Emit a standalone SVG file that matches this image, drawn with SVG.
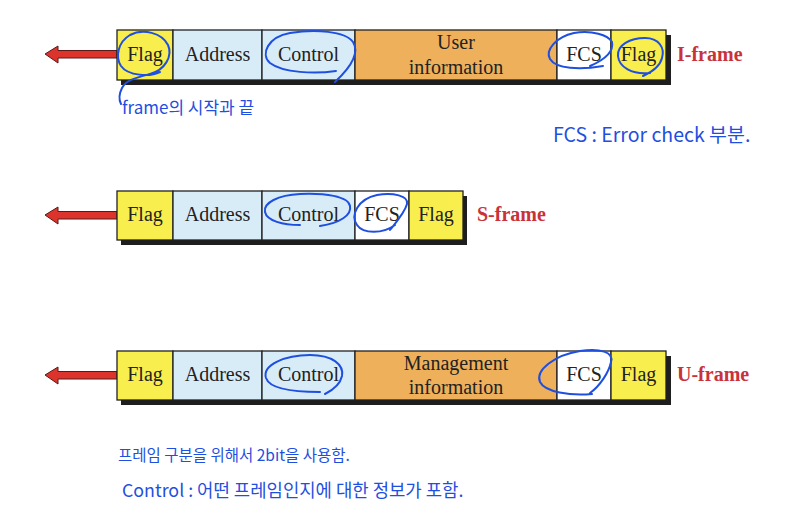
<svg xmlns="http://www.w3.org/2000/svg" width="797" height="531" viewBox="0 0 797 531">
<defs>
<style>
.fld{stroke:#222;stroke-width:1.3}
.flag{fill:#f8ee4e}
.addr{fill:#d8ecf8}
.info{fill:#eeb05a}
.fcs{fill:#ffffff}
.shadow{fill:#1e1e1e}
.t{font-family:"Liberation Serif","Times New Roman",serif;font-size:20px;fill:#222;text-anchor:middle}
.lbl{font-family:"Liberation Serif","Times New Roman",serif;font-size:20px;font-weight:bold;fill:#c9323a}
.arrow{fill:#dc332c;stroke:#5a1a18;stroke-width:1}
.pen{fill:none;stroke:#1f4fe0;stroke-width:2;stroke-linecap:round;stroke-linejoin:round}
.note{font-family:"Noto Sans CJK KR","Noto Sans",sans-serif;font-size:17px;fill:#1f4fe0}
</style>
</defs>
<rect width="797" height="531" fill="#ffffff"/>

<!-- I-frame -->
<g id="iframe">
<rect class="shadow" x="121" y="35" width="550" height="50"/>
<polygon class="arrow" points="45,54 58,46 58,50.5 117,50.5 117,58 58,58 58,63"/>
<g id="i-flag1"><rect class="fld flag" x="117" y="30" width="56" height="50"/><text class="t" x="145" y="61">Flag</text></g>
<g id="i-address"><rect class="fld addr" x="173" y="30" width="89" height="50"/><text class="t" x="217.5" y="61">Address</text></g>
<g id="i-control"><rect class="fld addr" x="262" y="30" width="93" height="50"/><text class="t" x="308.5" y="61">Control</text></g>
<g id="i-info"><rect class="fld info" x="355" y="30" width="202" height="50"/><text class="t" x="456" y="49">User</text><text class="t" x="456" y="74">information</text></g>
<g id="i-fcs"><rect class="fld fcs" x="557" y="30" width="54" height="50"/><text class="t" x="584" y="61">FCS</text></g>
<g id="i-flag2"><rect class="fld flag" x="611" y="30" width="55" height="50"/><text class="t" x="638.5" y="61">Flag</text></g>
<text class="lbl" x="677" y="61">I-frame</text>
</g>

<!-- S-frame -->
<g id="sframe">
<rect class="shadow" x="121" y="196" width="346" height="49"/>
<polygon class="arrow" points="45,215 58,207 58,211.5 117,211.5 117,219 58,219 58,224"/>
<g id="s-flag1"><rect class="fld flag" x="117" y="191" width="56" height="49"/><text class="t" x="145" y="221">Flag</text></g>
<g id="s-address"><rect class="fld addr" x="173" y="191" width="89" height="49"/><text class="t" x="217.5" y="221">Address</text></g>
<g id="s-control"><rect class="fld addr" x="262" y="191" width="93" height="49"/><text class="t" x="308.5" y="221">Control</text></g>
<g id="s-fcs"><rect class="fld fcs" x="355" y="191" width="54" height="49"/><text class="t" x="382" y="221">FCS</text></g>
<g id="s-flag2"><rect class="fld flag" x="409" y="191" width="54" height="49"/><text class="t" x="436" y="221">Flag</text></g>
<text class="lbl" x="477" y="221">S-frame</text>
</g>

<!-- U-frame -->
<g id="uframe">
<rect class="shadow" x="121" y="356" width="550" height="49"/>
<polygon class="arrow" points="45,375 58,367 58,371.5 117,371.5 117,379 58,379 58,384"/>
<g id="u-flag1"><rect class="fld flag" x="117" y="351" width="56" height="49"/><text class="t" x="145" y="381">Flag</text></g>
<g id="u-address"><rect class="fld addr" x="173" y="351" width="89" height="49"/><text class="t" x="217.5" y="381">Address</text></g>
<g id="u-control"><rect class="fld addr" x="262" y="351" width="93" height="49"/><text class="t" x="308.5" y="381">Control</text></g>
<g id="u-info"><rect class="fld info" x="355" y="351" width="202" height="49"/><text class="t" x="456" y="370">Management</text><text class="t" x="456" y="394">information</text></g>
<g id="u-fcs"><rect class="fld fcs" x="557" y="351" width="54" height="49"/><text class="t" x="584" y="381">FCS</text></g>
<g id="u-flag2"><rect class="fld flag" x="611" y="351" width="55" height="49"/><text class="t" x="638.5" y="381">Flag</text></g>
<text class="lbl" x="677" y="381">U-frame</text>
</g>

<!-- handwritten annotations -->
<g id="annotations">
<path class="pen" d="M160,72 C150,77 128,76 121,66 C115,57 118,42 130,35 C143,28 162,33 168,45 C173,56 165,70 150,74 C135,78 126,80 122,88 C119,94 119,100 121,104"/>
<path class="pen" d="M336,71 C315,74 283,73 270,63 C260,54 268,37 290,33 C315,29 345,31 353,42 C360,53 350,68 335,82"/>
<path class="pen" d="M603,66 C580,70 556,69 550,59 C545,50 556,37 574,33 C592,30 608,35 612,42 C614,52 604,60 590,66"/>
<path class="pen" d="M650,73 C632,75 619,67 618,56 C617,45 630,38 645,38 C659,38 665,48 662,58 C660,66 652,72 643,76"/>
<path class="pen" d="M300,225 C283,225 267,221 265,212 C263,203 278,195 300,194 C325,193 348,196 350,206 C352,215 340,223 320,226"/>
<path class="pen" d="M395,225 C383,234 363,234 357,225 C350,215 358,199 377,195 C393,192 409,196 407,204 C405,212 398,220 390,230"/>
<path class="pen" d="M320,392 C300,392 270,390 266,378 C262,365 285,355 310,355 C333,355 344,365 342,376 C340,385 333,390 325,394"/>
<path class="pen" d="M592,394 C570,396 545,392 540,382 C535,370 555,355 580,351 C600,348 614,352 611,362 C609,372 600,386 590,393"/>
</g>

<g id="notes">
<text class="note" x="122" y="114">frame의 시작과 끝</text>
<text class="note" x="553" y="142" style="font-size:19.5px">FCS : Error check 부분.</text>
<text class="note" x="118" y="461" style="font-size:15.5px">프레임 구분을 위해서 2bit을 사용함.</text>
<text class="note" x="122" y="497" style="font-size:17.8px">Control : 어떤 프레임인지에 대한 정보가 포함.</text>
</g>
</svg>
